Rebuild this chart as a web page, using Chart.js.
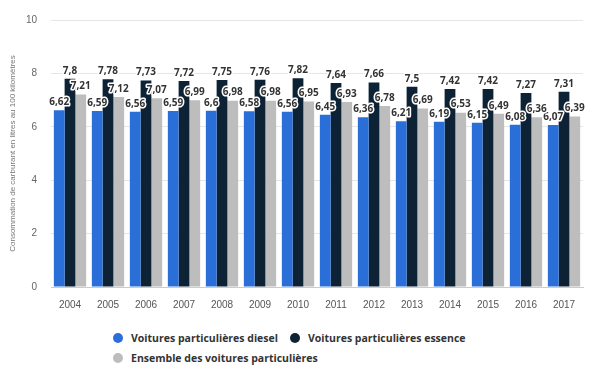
<!DOCTYPE html>
<html>
<head>
<meta charset="utf-8">
<script src="https://cdn.jsdelivr.net/npm/chart.js@4"></script>
<style>
  body { margin: 0; background: #fff; font-family: "Open Sans", "DejaVu Sans", sans-serif; }
  #wrap { position: relative; width: 600px; height: 315px; }
  #legend { position: absolute; left: 113px; top: 328px; font-size: 10.5px; font-weight: bold; color: #333; }
  .item { display: inline-flex; align-items: center; margin-right: 12px; height: 20px; }
  .dot { width: 10px; height: 10px; border-radius: 50%; margin-right: 8px; }
</style>
</head>
<body>
<div id="wrap"><canvas id="chart"></canvas></div>
<div id="legend"></div>
<script>
const years = ['2004', '2005', '2006', '2007', '2008', '2009', '2010', '2011', '2012', '2013', '2014', '2015', '2016', '2017'];
const diesel = [6.62, 6.59, 6.56, 6.59, 6.6, 6.58, 6.56, 6.45, 6.36, 6.21, 6.19, 6.15, 6.08, 6.07];
const essence = [7.8, 7.78, 7.73, 7.72, 7.75, 7.76, 7.82, 7.64, 7.66, 7.5, 7.42, 7.42, 7.27, 7.31];
const ensemble = [7.21, 7.12, 7.07, 6.99, 6.98, 6.98, 6.95, 6.93, 6.78, 6.69, 6.53, 6.49, 6.36, 6.39];
const seriesNames = ['Voitures particulières diesel', 'Voitures particulières essence', 'Ensemble des voitures particulières'];
const colors = ['#2a6fd8', '#0e2236', '#bdbdbd'];

// value labels above every bar, with a white halo
const valueLabels = {
    id: 'valueLabels',
    afterDatasetsDraw(chart) {
        const ctx = chart.ctx;
        ctx.save();
        ctx.font = 'bold 10px "Open Sans", sans-serif';
        ctx.textAlign = 'center';
        ctx.textBaseline = 'bottom';
        ctx.lineJoin = 'round';
        chart.data.datasets.forEach((ds, i) => {
            chart.getDatasetMeta(i).data.forEach((bar, j) => {
                const txt = String(ds.data[j]).replace('.', ',');
                ctx.lineWidth = 3;
                ctx.strokeStyle = '#fff';
                ctx.strokeText(txt, bar.x, bar.y - 3);
                ctx.fillStyle = '#333';
                ctx.fillText(txt, bar.x, bar.y - 3);
            });
        });
        ctx.restore();
    }
};

const ctx = document.getElementById('chart').getContext('2d');
new Chart(ctx, {
    type: 'bar',
    data: {
        labels: years,
        datasets: [diesel, essence, ensemble].map((d, i) => ({
            label: seriesNames[i],
            data: d,
            backgroundColor: colors[i],
            categoryPercentage: 0.85,
            barPercentage: 1.0
        }))
    },
    options: {
        responsive: true,
        maintainAspectRatio: false,
        animation: false,
        layout: { padding: { top: 6, right: 17, left: 0, bottom: 0 } },
        plugins: {
            legend: { display: false },
            tooltip: { enabled: false }
        },
        scales: {
            x: {
                grid: { display: false },
                border: { color: '#ccc' },
                ticks: { color: '#555', font: { size: 10 }, padding: 4 }
            },
            y: {
                min: 0,
                max: 10,
                afterFit: (scale) => { scale.width = 51; },
                ticks: { stepSize: 2, color: '#666', font: { size: 10 }, padding: 14 },
                grid: { color: '#e6e6e6', drawTicks: false },
                border: { display: false },
                title: {
                    display: true,
                    text: 'Consommation de carburant en litres au 100 kilomètres',
                    color: '#777',
                    font: { size: 8 },
                    padding: { top: 8, bottom: 0 }
                }
            }
        }
    },
    plugins: [valueLabels]
});

// legend below the chart
const legend = document.getElementById('legend');
seriesNames.forEach((name, i) => {
    const item = document.createElement('span');
    item.className = 'item';
    item.innerHTML = '<span class="dot" style="background:' + colors[i] + '"></span>' + name;
    legend.appendChild(item);
    if (i === 1) legend.appendChild(document.createElement('br'));
});
</script>
</body>
</html>
